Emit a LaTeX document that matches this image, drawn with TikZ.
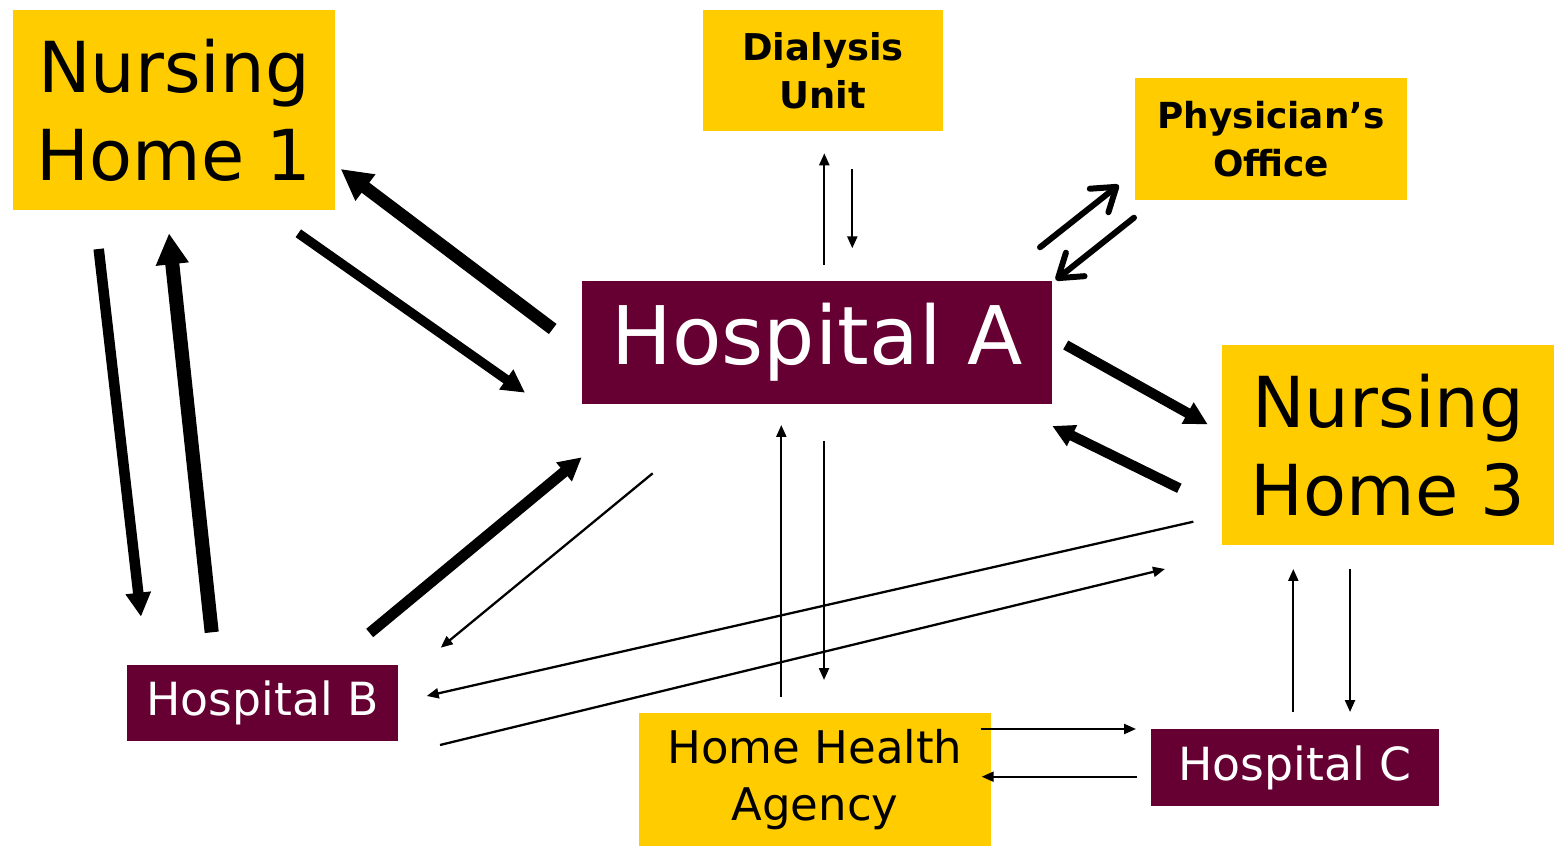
\documentclass[tikz,border=0pt]{standalone}
\usepackage{fontspec}
\setmainfont{DejaVu Sans}
\usetikzlibrary{arrows.meta}
\definecolor{boxyellow}{HTML}{FFCC00}
\definecolor{boxred}{HTML}{660033}
\tikzset{>={Triangle[length=0.12cm,width=0.1cm]}}
\tikzstyle{yellowbox}=[fill=boxyellow,inner sep=0pt,align=center,text=black]
\tikzstyle{redbox}=[fill=boxred,inner sep=0pt,align=center,text=white]
\tikzstyle{lightflow}=[line width=0.65pt,->]
\tikzset{heavyflow/.style 2 args={line width=#1,-{Triangle[length=#2,width=#2]}}}
\tikzstyle{barbflow}=[line width=1.7pt,line cap=round,line join=round,-{Straight Barb[length=0.22cm,width=0.3cm,round]}]

\begin{document}
\begin{tikzpicture}
\useasboundingbox (0,0) rectangle (15.54,8.46);
\node (nh1) at (1.74,7.36) [yellowbox,minimum width=3.22cm,minimum height=2cm,font=\fontsize{20}{25}\selectfont]{Nursing\\Home 1};
\node (dial) at (8.23,7.755) [yellowbox,minimum width=2.4cm,minimum height=1.21cm,font=\fontsize{10.5}{13.7}\selectfont\bfseries]{Dialysis\\Unit};
\node (phys) at (12.71,7.07) [yellowbox,minimum width=2.72cm,minimum height=1.22cm,font=\fontsize{10.2}{13.7}\selectfont\bfseries]{Physician’s\\Office};
\node (hospa) at (8.17,5.035) [redbox,minimum width=4.7cm,minimum height=1.23cm,font=\fontsize{23}{27}\selectfont]{Hospital A};
\node (nh3) at (13.88,4.01) [yellowbox,minimum width=3.32cm,minimum height=2cm,font=\fontsize{20}{25}\selectfont]{Nursing\\Home 3};
\node (hospb) at (2.625,1.43) [redbox,minimum width=2.71cm,minimum height=0.76cm,font=\fontsize{13}{16}\selectfont]{Hospital B};
\node (hha) at (8.15,0.665) [yellowbox,minimum width=3.52cm,minimum height=1.33cm,font=\fontsize{12.8}{16.2}\selectfont]{Home Health\\Agency};
\node (hospc) at (12.95,0.785) [redbox,minimum width=2.88cm,minimum height=0.77cm,font=\fontsize{13}{16}\selectfont]{Hospital C};

\coordinate (ahi) at (5.527,5.17);   \coordinate (nhiin) at (3.407,6.77);
\coordinate (nhiout) at (2.983,6.127); \coordinate (ahiin) at (5.25,4.533);
\coordinate (nhidown) at (0.987,5.97); \coordinate (hbup) at (1.41,2.293);
\coordinate (hbnhi) at (2.117,2.137); \coordinate (nhiup) at (1.69,6.127);
\coordinate (hbout) at (3.697,2.13); \coordinate (ahbin) at (5.817,3.887);
\coordinate (ahbout) at (6.527,3.727); \coordinate (hbin) at (4.407,1.983);
\coordinate (adup) at (8.243,5.81); \coordinate (dbot) at (8.243,6.927);
\coordinate (dtop) at (8.523,6.77); \coordinate (adin) at (8.523,5.977);
\coordinate (apout) at (10.40,5.987); \coordinate (pin) at (11.187,6.61);
\coordinate (pout) at (11.34,6.283); \coordinate (apin) at (10.557,5.66);
\coordinate (anout) at (10.657,5.01); \coordinate (nhiiiin) at (12.077,4.217);
\coordinate (nhiiiout) at (11.793,3.577); \coordinate (anin) at (10.523,4.2);
\coordinate (hhaup) at (7.813,1.493); \coordinate (ahhin) at (7.813,4.21);
\coordinate (ahhout) at (8.24,4.05); \coordinate (hhain) at (8.24,1.66);
\coordinate (nbout) at (11.933,3.243); \coordinate (hbnin) at (4.267,1.5);
\coordinate (hbnout) at (4.4,1.01); \coordinate (nbin) at (11.65,2.77);
\coordinate (ncout) at (13.5,2.77); \coordinate (hcin) at (13.5,1.34);
\coordinate (hcout) at (12.933,1.34); \coordinate (ncin) at (12.933,2.77);
\coordinate (hhcout) at (9.807,1.17); \coordinate (hhcin) at (11.36,1.17);
\coordinate (chout) at (11.367,0.693); \coordinate (chin) at (9.817,0.693);

\draw [heavyflow={3.6pt}{0.31cm}] (ahi) -- (nhiin);
\draw [heavyflow={2.7pt}{0.23cm}] (nhiout) -- (ahiin);
\draw [heavyflow={3pt}{0.24cm}] (nhidown) -- (hbup);
\draw [heavyflow={4pt}{0.31cm}] (hbnhi) -- (nhiup);
\draw [heavyflow={3.1pt}{0.23cm}] (hbout) -- (ahbin);
\draw [lightflow] (ahbout) -- (hbin);
\draw [lightflow] (adup) -- (dbot);
\draw [lightflow] (dtop) -- (adin);
\draw [barbflow] (apout) -- (pin);
\draw [barbflow] (pout) -- (apin);
\draw [heavyflow={2.9pt}{0.23cm}] (anout) -- (nhiiiin);
\draw [heavyflow={2.9pt}{0.22cm}] (nhiiiout) -- (anin);
\draw [lightflow] (hhaup) -- (ahhin);
\draw [lightflow] (ahhout) -- (hhain);
\draw [lightflow] (nbout) -- (hbnin);
\draw [lightflow] (hbnout) -- (nbin);
\draw [lightflow] (ncout) -- (hcin);
\draw [lightflow] (hcout) -- (ncin);
\draw [lightflow] (hhcout) -- (hhcin);
\draw [lightflow] (chout) -- (chin);
\end{tikzpicture}
\end{document}
